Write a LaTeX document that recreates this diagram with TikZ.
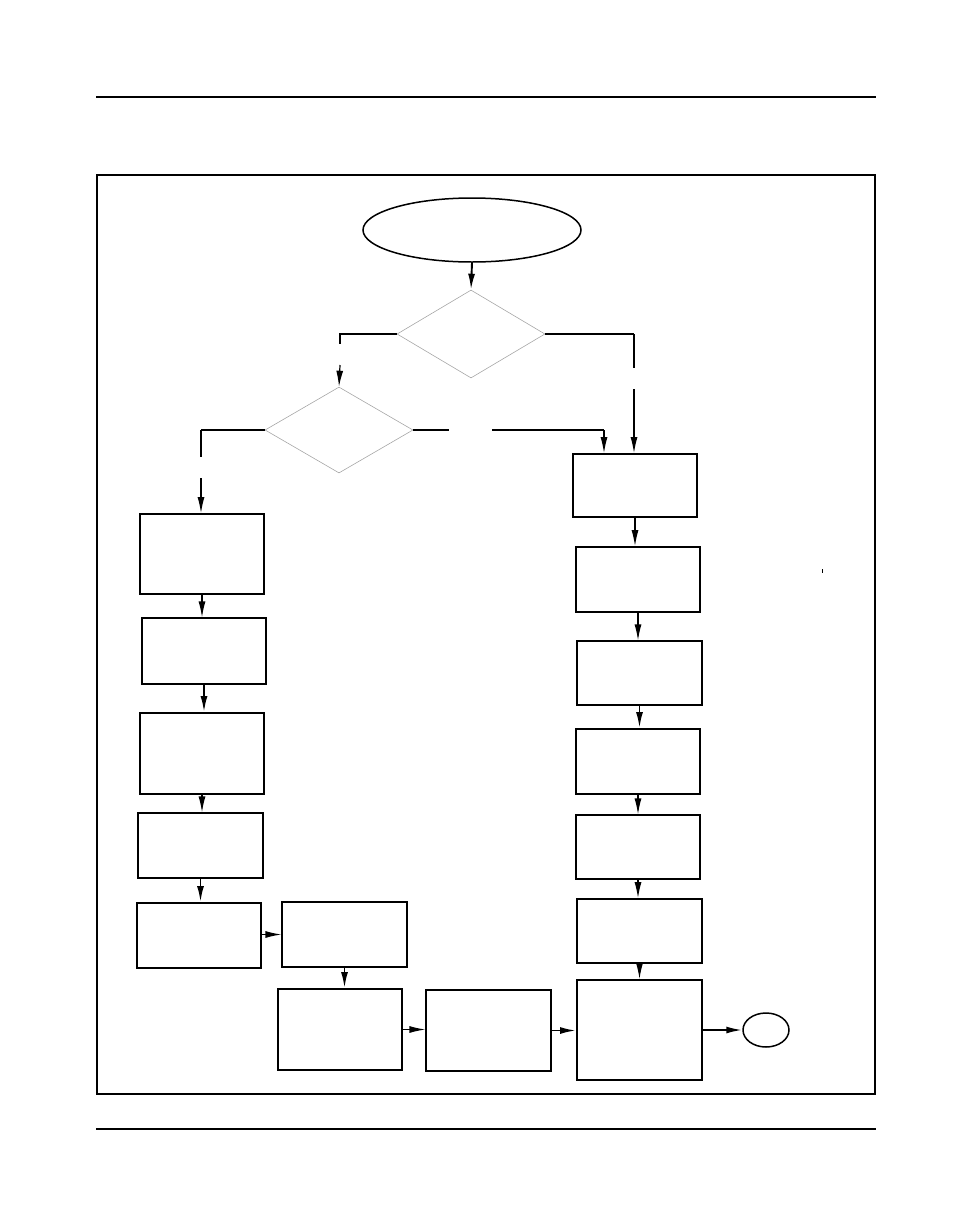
\documentclass[tikz,border=0pt]{standalone}
\usetikzlibrary{shapes.geometric,arrows.meta}
\begin{document}
\begin{tikzpicture}[x=1pt,y=-1pt,
  blk/.style={draw,rectangle,line width=1.2pt,inner sep=0pt},
  blkb/.style={draw,rectangle,line width=1.9pt,inner sep=0pt},
  dia/.style={draw=gray!70,diamond,line width=0.6pt,inner sep=0pt},
  arr/.style={line width=1.2pt,-{Latex[length=16pt 0 0,width=7pt 0 0]}},
  arrb/.style={line width=1.9pt,-{Latex[length=16pt 0 0,width=7pt 0 0]}},
  ln/.style={line width=1.9pt},
  lnt/.style={line width=1.2pt}]
\useasboundingbox (0,0) rectangle (972,1224);
% page rules and frame
\coordinate (r1a) at (96,97); \coordinate (r1b) at (876,97);
\coordinate (r2a) at (96,1129); \coordinate (r2b) at (876,1129);
\draw[line width=1.2pt] (r1a) -- (r1b);
\draw[line width=1.2pt] (r2a) -- (r2b);
\node[draw,line width=2pt,rectangle,inner sep=0pt,minimum width=778pt,minimum height=919pt] (frame) at (486,634.5) {};
% start ellipse and decisions
\node[draw,ellipse,line width=1.5pt,inner sep=0pt,minimum width=218pt,minimum height=64pt] (start) at (472,230) {};
\node[dia,minimum width=148pt,minimum height=88pt] (d1) at (471,334) {};
\node[dia,minimum width=148pt,minimum height=86pt] (d2) at (339,430) {};
% left column
\node[blkb,minimum width=124pt,minimum height=80pt] (L1) at (202,554) {};
\node[blk,minimum width=124pt,minimum height=66pt] (L2) at (204,651) {};
\node[blkb,minimum width=124pt,minimum height=81pt] (L3) at (202,753.5) {};
\node[blk,minimum width=125pt,minimum height=65pt] (L4) at (200.5,845.5) {};
\node[blkb,minimum width=124pt,minimum height=65pt] (L5) at (199,935.5) {};
\node[blk,minimum width=125pt,minimum height=65pt] (M1) at (344.5,934.5) {};
\node[blkb,minimum width=124pt,minimum height=81pt] (M2) at (340,1029.5) {};
\node[blk,minimum width=125pt,minimum height=81pt] (M3) at (488.5,1030.5) {};
% right column
\node[blkb,minimum width=124pt,minimum height=63pt] (R1) at (635,485.5) {};
\node[blkb,minimum width=124pt,minimum height=65pt] (R2) at (638,579.5) {};
\node[blk,minimum width=125pt,minimum height=64pt] (R3) at (639.5,673) {};
\node[blkb,minimum width=124pt,minimum height=65pt] (R4) at (638,761.5) {};
\node[blk,minimum width=124pt,minimum height=64pt] (R5) at (638,847) {};
\node[blkb,minimum width=125pt,minimum height=64pt] (R6) at (639.5,931) {};
\node[blkb,minimum width=125pt,minimum height=100pt] (R7) at (639.5,1030) {};
\node[draw,ellipse,line width=1.5pt,inner sep=0pt,minimum width=46pt,minimum height=34pt] (end) at (766,1030) {};
% connectors at top
\draw[arrb] (start.south) -- (d1.north);
\coordinate (d1L) at (340,334); \coordinate (d1Lg) at (340,344); \coordinate (d1La) at (340,365);
\draw[ln] (d1.west) -- (d1L) -- (d1Lg);
\draw[arr] (d1La) -- (d2.north);
\coordinate (d1R) at (634,334); \coordinate (d1Rg) at (634,368); \coordinate (d1Ra) at (634,389);
\draw[ln] (d1.east) -- (d1R);
\draw[lnt] (d1R) -- (d1Rg);
\draw[arr] (d1Ra) -- (d1Ra |- R1.north);
\coordinate (d2L) at (201,430); \coordinate (d2Lg) at (201,457); \coordinate (d2La) at (201,478);
\draw[ln] (d2.west) -- (d2L);
\draw[lnt] (d2L) -- (d2Lg);
\draw[arr] (d2La) -- (d2La |- L1.north);
\coordinate (d2Ra) at (449,430); \coordinate (d2Rb) at (492,430); \coordinate (d2Rc) at (604,430);
\draw[ln] (d2.east) -- (d2Ra);
\draw[ln] (d2Rb) -- (d2Rc);
\draw[arr] (d2Rc) -- (d2Rc |- R1.north);
% left column connectors
\draw[arr] (L1.south) -- (L1.south |- L2.north);
\draw[arrb] (L2.south) -- (L2.south |- L3.north);
\draw[arr] (L3.south) -- (L3.south |- L4.north);
\draw[arrb] (L4.south) -- (L4.south |- L5.north);
\draw[arr] (L5.east |- M1.west) -- (M1.west);
\draw[arrb] (M1.south) -- (M1.south |- M2.north);
\draw[arr] (M2.east) -- (M2.east -| M3.west);
\draw[arrb] (M3.east) -- (M3.east -| R7.west);
% right column connectors
\draw[arr] (R1.south) -- (R1.south |- R2.north);
\draw[arr] (R2.south) -- (R2.south |- R3.north);
\draw[arrb] (R3.south) -- (R3.south |- R4.north);
\draw[arr] (R4.south) -- (R4.south |- R5.north);
\draw[arr] (R5.south) -- (R5.south |- R6.north);
\draw[arr] (R6.south) -- (R6.south |- R7.north);
\draw[arrb] (R7.east) -- (end.west);
% stray tick
\coordinate (tk1) at (822,569); \coordinate (tk2) at (822,573);
\draw[line width=1pt] (tk1) -- (tk2);
\end{tikzpicture}
\end{document}
